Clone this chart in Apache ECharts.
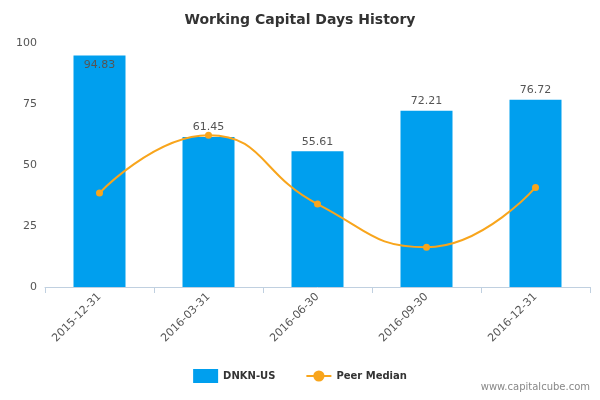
<!DOCTYPE html>
<html>
<head>
<meta charset="utf-8">
<script src="https://cdn.jsdelivr.net/npm/echarts@6/dist/echarts.min.js"></script>
<style>html,body{margin:0;padding:0;background:#fff}#main{width:600px;height:400px}</style>
</head>
<body>
<div id="main"></div>
<script>
var categories = ['2015-12-31', '2016-03-31', '2016-06-30', '2016-09-30', '2016-12-31'];
var companyDays = [94.83, 61.45, 55.61, 72.21, 76.72];
var peerMedian = [38.5, 62.2, 34.0, 16.3, 40.8];
var yTicks = [0, 25, 50, 75, 100];

var chart = echarts.init(document.getElementById('main'));
chart.setOption({
    animation: false,
    title: {
        text: 'Working Capital Days History',
        left: 'center',
        top: 8,
        textStyle: {fontFamily: 'DejaVu Sans', fontSize: 14, fontWeight: 'bold', color: '#333'}
    },
    grid: {left: 45, right: 10, top: 43, bottom: 113},
    legend: {
        bottom: 12,
        left: 'center',
        itemGap: 30,
        textStyle: {fontFamily: 'DejaVu Sans', fontSize: 10, fontWeight: 'bold', color: '#333'},
        data: [
            {name: 'DNKN-US', icon: 'rect', itemStyle: {color: '#009fee'}},
            {name: 'Peer Median'}
        ]
    },
    graphic: [{
        type: 'text', right: 10, bottom: 8,
        style: {text: 'www.capitalcube.com', fill: '#888', font: '10px DejaVu Sans'}
    }],
    xAxis: {
        type: 'category',
        data: categories,
        axisLine: {lineStyle: {color: '#c0d0e0'}},
        axisTick: {show: true, alignWithLabel: false, length: 6, lineStyle: {color: '#c0d0e0'}},
        axisLabel: {rotate: 45, color: '#555', fontFamily: 'DejaVu Sans', fontSize: 11}
    },
    yAxis: {
        type: 'value',
        min: yTicks[0],
        max: yTicks[yTicks.length - 1],
        interval: 25,
        splitLine: {show: false},
        axisLine: {show: false},
        axisTick: {show: false},
        axisLabel: {color: '#555', fontFamily: 'DejaVu Sans', fontSize: 11}
    },
    series: [{
        name: 'DNKN-US',
        type: 'bar',
        data: companyDays.map(function (v, i) {
            return {value: v, label: {position: i === 0 ? 'insideTop' : 'top'}};
        }),
        barWidth: 52,
        itemStyle: {color: '#009fee'},
        label: {show: true, color: '#555', fontFamily: 'DejaVu Sans', fontSize: 11, distance: 4}
    }, {
        name: 'Peer Median',
        type: 'line',
        data: peerMedian,
        smooth: 0.5,
        symbol: 'circle',
        symbolSize: 7,
        itemStyle: {color: '#f8a51c'},
        lineStyle: {color: '#f8a51c', width: 2}
    }]
});
</script>
</body>
</html>
